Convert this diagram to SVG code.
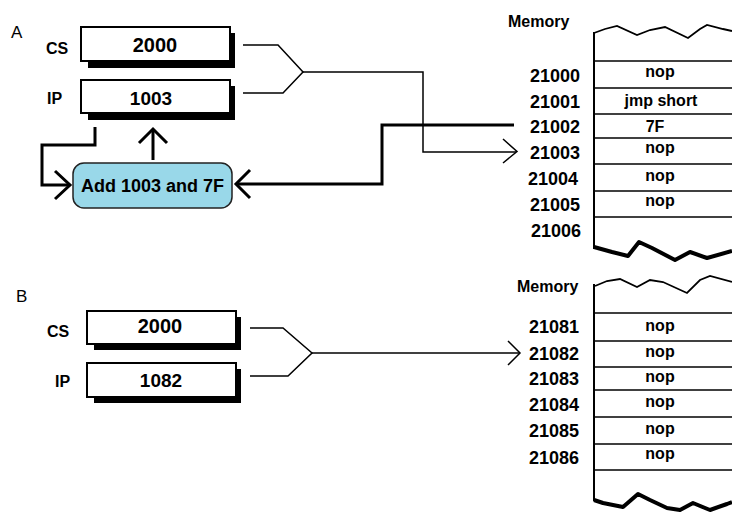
<svg xmlns="http://www.w3.org/2000/svg" width="732" height="513" viewBox="0 0 732 513">
<style>
text{font-family:"Liberation Sans",Arial,sans-serif;font-weight:bold;fill:#000}
.lbl{font-size:16px}
.big{font-size:20px;text-anchor:middle}
.mid{font-size:19px;text-anchor:middle}
.addr{font-size:18px;text-anchor:end}
.cell{font-size:16px;text-anchor:middle}
.sec{font-size:17px;font-weight:normal}
.box{fill:#fff;stroke:#000;stroke-width:2}
.shadow{fill:#000}
.thin{fill:none;stroke:#000;stroke-width:1.5}
.thick{fill:none;stroke:#000;stroke-width:3}
.row{stroke:#000;stroke-width:1.5}
.edge{fill:none;stroke:#000;stroke-width:2}
.wave{fill:none;stroke:#000;stroke-width:1.8}
.wavebot{fill:none;stroke:#000;stroke-width:4;stroke-linejoin:round}
</style>
<rect width="732" height="513" fill="#fff"/>

<text class="sec" x="11" y="38">A</text>
<text class="sec" x="16" y="302">B</text>

<g id="cs-a">
<rect class="shadow" x="88" y="33" width="147" height="35"/>
<rect class="box" x="81" y="27" width="149" height="34"/>
<text class="lbl" x="46" y="54">CS</text>
<text class="big" x="155" y="52">2000</text>
</g>
<g id="ip-a">
<rect class="shadow" x="88" y="86" width="147" height="34"/>
<rect class="box" x="81" y="80" width="149" height="33"/>
<text class="lbl" x="47" y="104">IP</text>
<text class="mid" x="151" y="105">1003</text>
</g>
<g id="add-a">
<rect x="73" y="163" width="159" height="45" rx="11" fill="#99d8e9" stroke="#222" stroke-width="1.5"/>
<text x="152.5" y="192" style="font-size:18px;text-anchor:middle">Add 1003 and 7F</text>
</g>

<g id="cs-b">
<rect class="shadow" x="94" y="317" width="147" height="33"/>
<rect class="box" x="87" y="311" width="149" height="33"/>
<text class="lbl" x="47" y="337">CS</text>
<text class="big" x="160" y="333">2000</text>
</g>
<g id="ip-b">
<rect class="shadow" x="94" y="369" width="147" height="34"/>
<rect class="box" x="87" y="363" width="149" height="34"/>
<text class="lbl" x="55" y="387">IP</text>
<text class="mid" x="161" y="387">1082</text>
</g>

<g id="memory-a">
<text class="lbl" x="508" y="27">Memory</text>
<path class="wave" d="M594,33 L605,29 L617,26 L637,35 L650,30 L665,27 L688,38 L700,29 L707,25 L723,29 L732,31"/>
<line class="edge" x1="594" y1="32" x2="594" y2="249"/>
<line class="row" x1="594" y1="61" x2="732" y2="61"/>
<line class="row" x1="594" y1="88" x2="732" y2="88"/>
<line class="row" x1="594" y1="114" x2="732" y2="114"/>
<line class="row" x1="594" y1="138" x2="732" y2="138"/>
<line class="row" x1="594" y1="164" x2="732" y2="164"/>
<line class="row" x1="594" y1="191" x2="732" y2="191"/>
<line class="row" x1="594" y1="217" x2="732" y2="217"/>
<path class="wavebot" d="M594,247 L612,252 L628,256 L639,242 L652,248 L675,260 L690,252 L707,258 L732,251"/>
<text class="addr" x="580" y="82">21000</text>
<text class="addr" x="580" y="108">21001</text>
<text class="addr" x="580" y="133">21002</text>
<text class="addr" x="580" y="159">21003</text>
<text class="addr" x="578" y="185">21004</text>
<text class="addr" x="580" y="211">21005</text>
<text class="addr" x="581" y="237">21006</text>
<text class="cell" x="660" y="77">nop</text>
<text class="cell" x="661" y="106">jmp short</text>
<text class="cell" x="655" y="132">7F</text>
<text class="cell" x="660" y="153">nop</text>
<text class="cell" x="660" y="181">nop</text>
<text class="cell" x="660" y="206">nop</text>
</g>

<g id="memory-b">
<text class="lbl" x="517" y="292">Memory</text>
<path class="wave" d="M595,286 L607,281 L620,279 L637,287 L650,280 L663,282 L687,293 L700,280 L710,276 L732,282"/>
<line class="edge" x1="594" y1="284" x2="594" y2="501"/>
<line class="row" x1="594" y1="313" x2="732" y2="313"/>
<line class="row" x1="594" y1="341" x2="732" y2="341"/>
<line class="row" x1="594" y1="367" x2="732" y2="367"/>
<line class="row" x1="594" y1="390" x2="732" y2="390"/>
<line class="row" x1="594" y1="417" x2="732" y2="417"/>
<line class="row" x1="594" y1="444" x2="732" y2="444"/>
<line class="row" x1="594" y1="470" x2="732" y2="470"/>
<path class="wavebot" d="M594,500 L603,503 L623,507 L638,494 L650,500 L667,508 L680,510 L693,503 L710,510 L727,504 L732,502"/>
<text class="addr" x="579" y="333">21081</text>
<text class="addr" x="579" y="360">21082</text>
<text class="addr" x="579" y="385">21083</text>
<text class="addr" x="579" y="411">21084</text>
<text class="addr" x="579" y="437">21085</text>
<text class="addr" x="579" y="464">21086</text>
<text class="cell" x="660" y="331">nop</text>
<text class="cell" x="660" y="357">nop</text>
<text class="cell" x="660" y="382">nop</text>
<text class="cell" x="660" y="407">nop</text>
<text class="cell" x="660" y="434">nop</text>
<text class="cell" x="660" y="459">nop</text>
</g>

<g id="connectors">
<path class="thin" d="M243,45 L278,45 L303,72 L283,93 L243,93"/>
<path class="thin" d="M303,72 L423,72 L423,152 L516,152"/>
<path class="thin" d="M503,139 L517,151.5 L503,163"/>
<path class="thick" d="M237,184 L382,184 L382,125 L514,125"/>
<path class="thick" d="M250,170 L236,184 L250,198"/>
<path class="thick" d="M95,127 L95,145 L42,145 L42,185 L70,185"/>
<path class="thick" d="M55,171 L70,185 L55,199"/>
<path class="thick" d="M153,160 L153,129"/>
<path class="thick" d="M139,143 L153,129 L167,143"/>
<path class="thin" d="M250,328 L283,328 L312,353 L288,376 L250,376"/>
<path class="thin" d="M312,353 L519,353"/>
<path class="thin" d="M508,341 L520,353 L508,365"/>
</g>
</svg>
